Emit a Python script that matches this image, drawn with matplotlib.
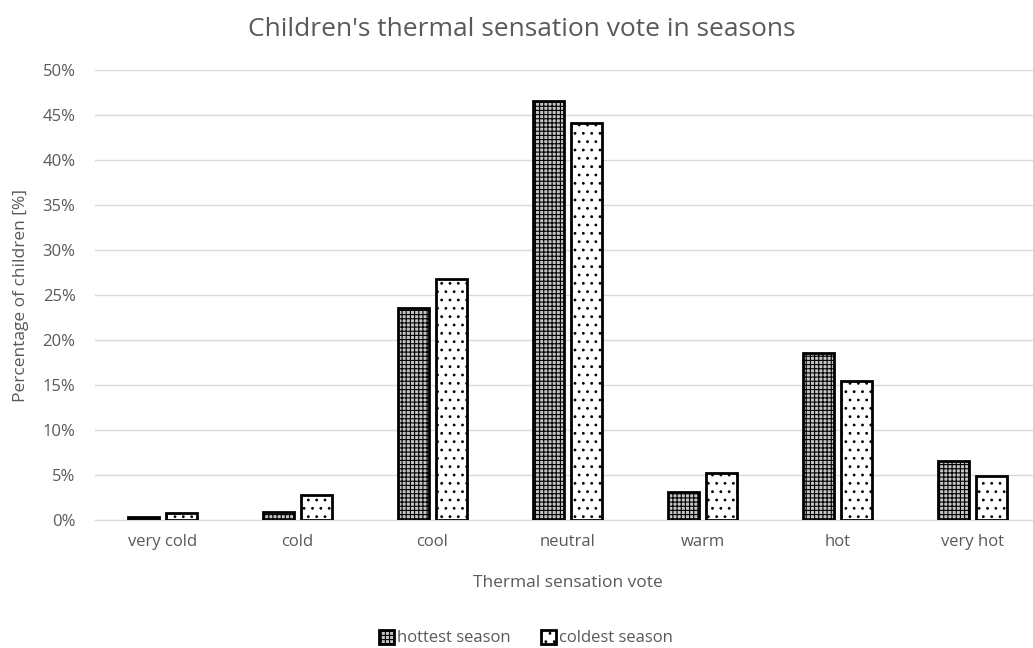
import matplotlib.pyplot as plt
import numpy as np
from matplotlib.ticker import PercentFormatter

# thermal sensation votes by season, percent of children
categories = ['very cold', 'cold', 'cool', 'neutral', 'warm', 'hot', 'very hot']
hottest = [0.3, 0.9, 23.6, 46.6, 3.1, 18.6, 6.6]
coldest = [0.8, 2.8, 26.8, 44.1, 5.2, 15.4, 4.9]

plt.rcParams['font.family'] = ['Open Sans', 'DejaVu Sans']
plt.rcParams['hatch.linewidth'] = 0.8
text_col = '#595959'

fig = plt.figure(figsize=(10.33, 6.48), dpi=100)
ax = fig.add_axes([95 / 1033, 1 - 520 / 648, 945 / 1033, 450 / 648])

x = np.arange(len(categories))
w = 0.235
gap = 0.045
ax.bar(x - (w + gap) / 2, hottest, w, color='#c4c4c4', edgecolor='black',
       linewidth=2, hatch='++++', label='hottest season', zorder=3)
ax.bar(x + (w + gap) / 2, coldest, w, color='white', edgecolor='black',
       linewidth=2, hatch='..', label='coldest season', zorder=3)

ax.set_xlim(-0.5, len(categories) - 0.5)
ax.set_ylim(0, 50)
ax.set_yticks(np.arange(0, 51, 5))
ax.yaxis.set_major_formatter(PercentFormatter(decimals=0))
ax.set_xticks(x)
ax.set_xticklabels(categories)
ax.tick_params(axis='both', length=0, colors=text_col, labelsize=12, pad=10)
ax.tick_params(axis='y', pad=14)
ax.grid(axis='y', color='#d9d9d9', linewidth=1, zorder=0)

for s in ['top', 'right', 'left']:
    ax.spines[s].set_visible(False)
ax.spines['bottom'].set_color('#d9d9d9')

fig.suptitle("Children's thermal sensation vote in seasons", fontsize=19,
             color=text_col, x=0.505, y=1 - 30 / 648, va='center')
ax.set_xlabel('Thermal sensation vote', fontsize=12.5, color=text_col, labelpad=18)
ax.set_ylabel('Percentage of children [%]', fontsize=12.5, color=text_col, labelpad=10)

leg = fig.legend(loc='center', bbox_to_anchor=(0.509, 1 - 638 / 648), ncol=2,
                 frameon=False, fontsize=12, handlelength=0.9, handleheight=0.9,
                 columnspacing=1.8, handletextpad=0.2)
for t in leg.get_texts():
    t.set_color(text_col)

fig.savefig('out.png', dpi=100)
